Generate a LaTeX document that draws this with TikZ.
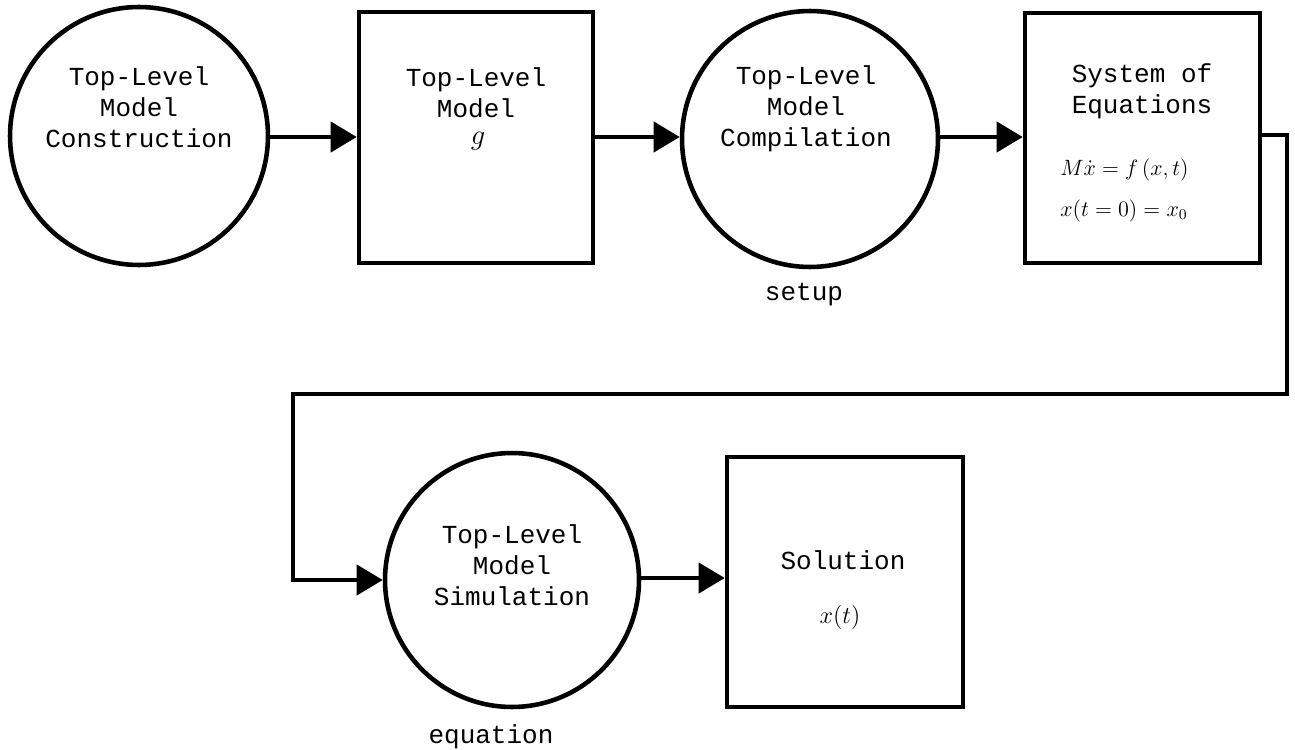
\documentclass[tikz,border=0pt]{standalone}
\usepackage{graphicx}
\usepackage{fontspec}
\newfontfamily\monofont{Liberation Mono}
\usetikzlibrary{arrows.meta,calc}
\tikzset{
  lw/.style={line width=2.6pt},
  proc/.style={circle,draw,lw,minimum size=#1,inner sep=0pt},
  store/.style={rectangle,draw,lw,minimum width=#1,inner sep=0pt},
  txt/.style={align=center,inner sep=0pt,font=\monofont\fontsize{14.8}{17.6}\selectfont},
  mth/.style={inner sep=0pt,font=\fontsize{12}{14}\selectfont},
  flow/.style={lw,-{Triangle[length=14.8pt,width=17pt]}},
}
\begin{document}
\begin{tikzpicture}[x=0.02cm,y=-0.02cm]
\useasboundingbox (0,0) rectangle (1295,750);
% nodes
\node[proc=5.16cm] (c1) at (139,136) {};
\node[store=4.68cm,minimum height=5.02cm] (b1) at (476,137.5) {};
\node[proc=5.12cm] (c2) at (810,139) {};
\node[store=4.70cm,minimum height=5.0cm] (b2) at (1142.5,138) {};
\node[proc=5.08cm] (c3) at (512,580) {};
\node[store=4.72cm,minimum height=5.0cm] (b3) at (845,582) {};
% texts
\node[txt] (t1) at (139,107) {Top-Level\\Model\\Construction};
\node[txt] (t2) at (476,93) {Top-Level\\Model};
\node[mth] (g) at (478,141) {\scalebox{1.35}{$g$}};
\node[txt] (t3) at (806,109) {Top-Level\\Model\\Compilation};
\node[txt] (t4) at (1142,91) {System of\\Equations};
\node[mth,anchor=west] (e1) at (1060,170) {\scalebox{1.05}{$M\dot{x} = f\,(x, t)$}};
\node[mth,anchor=west] (e2) at (1060,211) {\scalebox{1.05}{$x(t = 0) = x_0$}};
\node[txt] (t5) at (512,565) {Top-Level\\Model\\Simulation};
\node[txt] (t6) at (843,560) {Solution};
\node[mth] (xt) at (840,617) {\scalebox{1.15}{$x(t)$}};
\node[txt] (setup) at (804,295) {setup};
\node[txt] (eqn) at (491,737) {equation};
% connectors
\coordinate (k1) at (1287,135);
\coordinate (k2) at (1287,394);
\coordinate (k3) at (293,394);
\coordinate (k4) at (293,580);
\draw[flow] (c1.east |- 0,137) -- (b1.west |- 0,137);
\draw[flow] (b1.east |- 0,137) -- (c2.west |- 0,137);
\draw[flow] (c2.east |- 0,137) -- (b2.west |- 0,137);
\draw[flow] (b2.east |- k1) -- (k1) -- (k2) -- (k3) -- (k4) -- (c3.west);
\draw[flow] (c3.east |- 0,578) -- (b3.west |- 0,578);
\end{tikzpicture}
\end{document}
